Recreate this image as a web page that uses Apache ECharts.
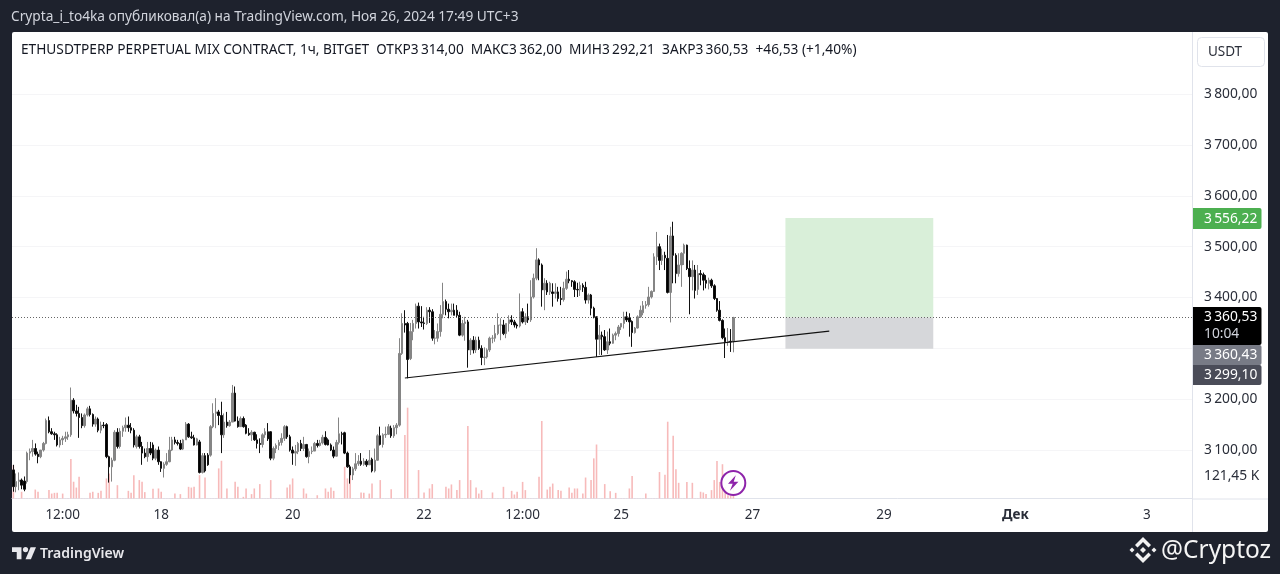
<!DOCTYPE html>
<html><head><meta charset="utf-8">
<style>html,body{margin:0;padding:0;background:#1e222d}#c{width:1280px;height:574px}</style>
<script src="https://cdn.jsdelivr.net/npm/echarts@6/dist/echarts.min.js"></script>
</head><body><div id="c"></div>
<script>
const opens=[3061,3028,3038,3041,3039,3038,3094,3097,3103,3092,
3087,3100,3113,3158,3136,3132,3130,3110,3120,3123,
3126,3130,3198,3177,3172,3164,3148,3169,3181,3170,
3151,3161,3139,3149,3150,3087,3067,3080,3135,3107,
3137,3144,3149,3144,3139,3107,3126,3107,3094,3087,
3103,3110,3084,3100,3077,3064,3072,3077,3100,3120,
3115,3113,3102,3120,3151,3126,3124,3110,3116,3056,
3089,3090,3090,3146,3172,3175,3168,3130,3155,3148,
3155,3212,3157,3146,3162,3149,3133,3130,3135,3120,
3113,3111,3130,3136,3136,3084,3103,3109,3115,3123,
3146,3126,3100,3094,3097,3113,3103,3111,3087,3097,
3098,3113,3109,3114,3125,3120,3110,3100,3088,3115,
3132,3134,3094,3067,3051,3063,3073,3078,3072,3078,
3071,3082,3059,3080,3128,3111,3130,3131,3143,3128,
3144,3149,3290,3349,3349,3280,3333,3349,3383,3352,
3350,3349,3375,3372,3320,3320,3333,3367,3392,3377,
3372,3375,3375,3365,3326,3349,3352,3297,3316,3297,
3316,3300,3282,3283,3297,3320,3320,3329,3346,3346,
3329,3349,3356,3352,3346,3344,3372,3352,3362,3356,
3401,3438,3474,3464,3415,3428,3411,3411,3408,3411,
3398,3396,3418,3436,3433,3431,3416,3415,3424,3420,
3395,3405,3379,3362,3318,3326,3323,3297,3313,3310,
3326,3329,3342,3349,3362,3360,3353,3331,3340,3362,
3370,3384,3386,3401,3412,3480,3500,3473,3483,3477,
3410,3521,3483,3447,3464,3487,3503,3457,3441,3454,
3416,3447,3445,3434,3428,3434,3423,3398,3375,3355,
3321,3313,3314,3314];
const closes=[3028,3038,3041,3031,3023,3094,3097,3103,3092,3087,
3100,3113,3158,3136,3132,3130,3110,3120,3123,3126,
3130,3198,3177,3172,3164,3148,3169,3181,3170,3151,
3161,3139,3149,3148,3087,3067,3080,3135,3107,3137,
3144,3149,3144,3139,3110,3126,3107,3094,3087,3103,
3094,3084,3100,3077,3064,3072,3077,3100,3120,3115,
3113,3102,3120,3151,3126,3124,3110,3122,3056,3089,
3059,3071,3146,3172,3175,3168,3130,3155,3148,3155,
3212,3157,3146,3162,3146,3133,3130,3135,3120,3113,
3111,3130,3136,3122,3084,3103,3109,3115,3123,3146,
3126,3100,3094,3097,3113,3103,3111,3087,3097,3098,
3113,3109,3114,3125,3111,3110,3100,3088,3115,3132,
3131,3094,3067,3051,3063,3073,3078,3072,3078,3071,
3080,3059,3080,3128,3111,3130,3131,3146,3128,3144,
3149,3290,3349,3346,3278,3333,3349,3383,3352,3350,
3349,3375,3372,3320,3320,3333,3367,3392,3377,3372,
3375,3365,3365,3326,3349,3352,3297,3316,3297,3316,
3300,3282,3283,3297,3320,3320,3329,3346,3346,3329,
3349,3356,3352,3346,3344,3372,3352,3362,3356,3401,
3438,3474,3464,3415,3428,3411,3428,3408,3411,3398,
3396,3418,3436,3433,3431,3416,3415,3424,3420,3395,
3405,3379,3362,3318,3326,3323,3297,3313,3310,3326,
3329,3342,3349,3362,3356,3352,3331,3340,3362,3375,
3384,3386,3401,3412,3480,3500,3473,3483,3478,3410,
3521,3483,3447,3464,3487,3503,3457,3441,3454,3414,
3447,3445,3434,3428,3434,3423,3398,3375,3355,3321,
3313,3314,3313,3360.53];
const highs=[3071,3054,3056,3044,3048,3097,3103,3120,3113,3097,
3100,3116,3162,3166,3143,3136,3133,3126,3128,3136,
3136,3223,3202,3189,3185,3172,3172,3185,3187,3172,
3166,3164,3156,3155,3153,3089,3085,3139,3143,3143,
3148,3164,3166,3153,3143,3130,3130,3116,3103,3116,
3116,3115,3103,3107,3078,3076,3094,3126,3126,3126,
3120,3120,3122,3155,3153,3136,3130,3124,3120,3094,
3094,3094,3149,3192,3202,3179,3195,3172,3175,3159,
3228,3225,3166,3166,3166,3151,3143,3139,3136,3131,
3123,3133,3143,3153,3137,3107,3113,3120,3133,3149,
3148,3130,3107,3110,3116,3120,3126,3112,3103,3107,
3116,3120,3120,3130,3137,3123,3113,3107,3120,3164,
3136,3136,3097,3071,3067,3094,3090,3094,3084,3082,
3100,3085,3103,3131,3146,3133,3146,3151,3148,3149,
3153,3320,3369,3375,3352,3350,3356,3388,3390,3383,
3362,3381,3381,3377,3336,3349,3385,3429,3396,3388,
3388,3388,3385,3372,3356,3362,3356,3320,3324,3323,
3323,3306,3302,3300,3323,3326,3346,3369,3359,3356,
3349,3365,3365,3356,3349,3408,3379,3369,3388,3434,
3447,3497,3477,3467,3438,3434,3431,3428,3428,3421,
3421,3431,3451,3454,3434,3434,3429,3431,3428,3431,
3408,3407,3382,3363,3346,3333,3336,3333,3339,3329,
3333,3346,3349,3372,3372,3369,3355,3342,3365,3384,
3393,3393,3421,3414,3487,3529,3506,3496,3490,3523,
3539,3549,3487,3487,3489,3506,3504,3473,3473,3464,
3464,3454,3449,3444,3439,3437,3426,3399,3393,3357,
3339,3340,3338,3362];
const lows=[3018,3017,3021,3023,3019,3034,3080,3087,3089,3074,
3084,3097,3111,3133,3130,3120,3107,3105,3110,3116,
3120,3126,3172,3166,3124,3143,3144,3166,3166,3146,
3146,3135,3133,3143,3084,3036,3038,3078,3103,3103,
3126,3136,3136,3133,3105,3103,3103,3071,3084,3077,
3090,3080,3080,3071,3057,3046,3069,3076,3098,3111,
3109,3100,3100,3120,3124,3122,3109,3109,3054,3054,
3056,3069,3087,3143,3143,3149,3094,3124,3144,3146,
3155,3156,3144,3148,3144,3131,3128,3118,3118,3103,
3094,3105,3124,3118,3080,3080,3094,3100,3109,3118,
3122,3097,3071,3069,3092,3098,3098,3085,3074,3092,
3098,3105,3107,3111,3109,3109,3098,3084,3087,3111,
3111,3092,3065,3034,3041,3059,3069,3069,3069,3067,
3071,3056,3056,3079,3109,3105,3124,3130,3124,3124,
3131,3146,3287,3331,3241,3277,3316,3339,3339,3342,
3337,3346,3350,3315,3308,3313,3323,3359,3365,3359,
3365,3365,3361,3324,3323,3315,3262,3287,3290,3291,
3297,3267,3267,3280,3293,3310,3313,3326,3316,3326,
3320,3333,3346,3341,3339,3341,3349,3346,3350,3352,
3398,3434,3434,3382,3375,3405,3405,3382,3398,3392,
3385,3392,3415,3428,3421,3401,3401,3403,3411,3388,
3388,3365,3359,3283,3287,3287,3295,3289,3306,3309,
3316,3323,3336,3339,3352,3323,3303,3329,3339,3360,
3365,3378,3382,3398,3411,3464,3454,3464,3454,3408,
3351,3428,3428,3441,3421,3464,3454,3367,3414,3398,
3405,3424,3414,3418,3416,3419,3395,3372,3353,3318,
3281,3305,3293,3292.21];
const volumesK=[183,1,1,37,1,1,1,1,49,37,
1,1,1,46,27,31,31,1,27,1,
1,216,92,60,119,1,1,1,31,37,
1,31,42,1,110,137,1,1,73,1,
1,1,42,31,128,1,101,92,35,1,
1,53,1,55,37,1,1,1,1,27,
1,24,1,1,64,60,64,1,128,1,
115,1,1,1,1,165,207,1,55,1,
1,92,64,1,9,55,1,24,55,1,
79,1,1,1,101,1,1,1,1,1,
60,77,110,1,1,1,55,27,1,1,
1,18,1,1,55,37,60,42,1,1,
1,174,110,146,1,1,1,33,31,1,
27,82,1,1,101,1,1,1,51,1,
1,1,1,348,498,1,1,1,156,1,
33,1,55,79,1,1,1,1,64,55,
77,1,46,101,1,1,397,101,1,60,
27,46,1,1,1,33,1,1,1,64,
1,1,42,22,37,1,91,46,1,1,
1,1,119,425,1,49,64,82,1,46,
42,1,1,60,31,55,55,1,27,115,
1,101,220,296,1,1,79,1,40,1,
31,1,1,1,1,55,123,1,1,1,
1,27,1,1,1,1,145,1,130,421,
1,344,161,86,1,1,91,1,86,1,
1,37,33,24,1,46,101,205,91,188,
64,18,15,121.45];
const xTickLabels={'2024-11-16 12:00':'12:00','2024-11-18 00:00':'18','2024-11-20 00:00':'20','2024-11-22 00:00':'22','2024-11-23 12:00':'12:00','2024-11-25 00:00':'25','2024-11-27 00:00':'27','2024-11-29 00:00':'29','2024-12-01 00:00':'Дек','2024-12-03 00:00':'3'};
const priceTicks=[3100,3200,3300,3400,3500,3600,3700,3800];
const lastPrice=3360.53, targetPrice=3556.22, stopPrice=3299.10;
const trendFrom=[143,3241.7], trendTo=[298,3334];
const boxFrom=282, boxTo=336;
const headerText='Crypta_i_to4ka опубликовал(а) на TradingView.com, Ноя 26, 2024 17:49 UTC+3';
const legendText='ETHUSDTPERP PERPETUAL MIX CONTRACT, 1ч, BITGET  ОТКР3\u2009314,00  МАКС3\u2009362,00  МИН3\u2009292,21  ЗАКР3\u2009360,53  +46,53 (+1,40%)';

const pad=n=>String(n).padStart(2,'0');
const categories=[];
for(let i=0;i<431;i++){
  const d=new Date(Date.UTC(2024,10,15,18+i));
  categories.push(d.getUTCFullYear()+'-'+pad(d.getUTCMonth()+1)+'-'+pad(d.getUTCDate())+' '+pad(d.getUTCHours())+':00');
}
const candles=opens.map((o,i)=>[o,closes[i],lows[i],highs[i]]);
const FONT='"Noto Sans", sans-serif';
const fmtPrice=v=>{const s=Number(v).toFixed(2).replace('.',',');return s.slice(0,1)+'\u2009'+s.slice(1);};
const tag=(y,h,fill,label,extra)=>({type:'group',z:100,children:[
  {type:'rect',z:100,shape:{x:1193,y:y,width:68.5,height:h,r:[0,2,2,0]},style:{fill:fill}},
  {type:'text',z:101,style:{x:1204,y:extra?y+10.5:y+h/2+.5,text:label,fill:'#fff',font:'13.8px '+FONT,verticalAlign:'middle'}},
  ...(extra?[{type:'text',z:101,style:{x:1204,y:y+27,text:extra,fill:'#d1d4dc',font:'13.8px '+FONT,verticalAlign:'middle'}}]:[])
]});
const poly=(pts,ox,oy,s,fill,z)=>({type:'polygon',z:z||20,shape:{points:pts.map(p=>[ox+p[0]*s,oy+p[1]*s])},style:{fill:fill}});

const chart=echarts.init(document.getElementById('c'),null,{renderer:'canvas'});
chart.setOption({
  animation:false,
  backgroundColor:'#1e222d',
  textStyle:{fontFamily:FONT},
  title:[
    {text:headerText,left:11,top:9.5,padding:0,textStyle:{color:'#d1d4dc',fontSize:13.7,lineHeight:16,fontWeight:'normal',fontFamily:FONT}},
    {text:legendText,left:21,top:42.5,padding:0,textStyle:{color:'#131722',fontSize:13.7,lineHeight:16,fontWeight:'normal',fontFamily:FONT}}
  ],
  grid:[
    {left:12,top:68.7,width:1180,height:432.2},
    {left:12,top:400,width:1180,height:98.5}
  ],
  xAxis:[
    {type:'category',gridIndex:0,data:categories,show:false,boundaryGap:true},
    {type:'category',gridIndex:1,data:categories,boundaryGap:true,
      axisTick:{show:false},
      axisLine:{show:true,lineStyle:{color:'#e0e3eb',width:1}},
      axisLabel:{margin:10,fontSize:13.5,color:'#2a2e39',fontFamily:FONT,hideOverlap:false,
        interval:(i,name)=>name in xTickLabels,
        formatter:name=>{const t=xTickLabels[name]||'';return t==='Дек'?'{b|Дек}':t;},
        rich:{b:{fontWeight:'bold',fontSize:13.5,color:'#2a2e39',fontFamily:FONT}}}}
  ],
  yAxis:[
    {type:'value',gridIndex:0,position:'right',min:3000,max:3850,interval:100,
      axisLine:{show:false},axisTick:{show:false},
      splitLine:{show:true,showMinLine:false,showMaxLine:false,lineStyle:{color:'#f5f5f7',width:1}},
      axisLabel:{customValues:priceTicks,margin:12,fontSize:13.8,color:'#2a2e39',fontFamily:FONT,formatter:fmtPrice}},
    {type:'value',gridIndex:1,position:'right',min:0,max:540,
      axisLine:{show:false},axisTick:{show:false},splitLine:{show:false},
      axisLabel:{customValues:[volumesK[volumesK.length-1]],margin:12,fontSize:13.8,color:'#2a2e39',fontFamily:FONT,
        formatter:v=>Number(v).toFixed(2).replace('.',',')+' K'}}
  ],
  series:[
    {type:'bar',name:'Volume',xAxisIndex:1,yAxisIndex:1,data:volumesK,barWidth:1.6,z:1,
      itemStyle:{color:'#f7baba'}},
    {type:'candlestick',name:'ETHUSDTPERP',xAxisIndex:0,yAxisIndex:0,data:candles,barWidth:2,z:3,
      itemStyle:{color:'#858585',color0:'#000000',borderColor:'#858585',borderColor0:'#111111',borderWidth:1},
      markArea:{silent:true,z:1,data:[
        [{coord:[categories[boxFrom],lastPrice],itemStyle:{color:'#d9efd9'}},{coord:[categories[boxTo],targetPrice]}],
        [{coord:[categories[boxFrom],stopPrice],itemStyle:{color:'#d6d7da'}},{coord:[categories[boxTo],lastPrice]}]
      ]},
      markLine:{silent:true,symbol:'none',animation:false,label:{show:false},data:[
        {yAxis:lastPrice,lineStyle:{color:'#666',type:[1,2],width:1}},
        [{coord:[categories[trendFrom[0]],trendFrom[1]],lineStyle:{color:'#111',type:'solid',width:1.2}},
         {coord:[categories[trendTo[0]],trendTo[1]]}]
      ]}}
  ],
  graphic:[
    {type:'rect',z:-10,silent:true,shape:{x:12,y:32,width:1256,height:500,r:2},style:{fill:'#ffffff'}},
    {type:'line',z:5,shape:{x1:1192.5,y1:32,x2:1192.5,y2:532},style:{stroke:'#e0e3eb',lineWidth:1}},
    {type:'line',z:5,shape:{x1:1192,y1:499,x2:1268,y2:499},style:{stroke:'#e0e3eb',lineWidth:1}},
    {type:'rect',z:6,shape:{x:1197.5,y:37.5,width:67,height:29,r:4},style:{fill:'#ffffff',stroke:'#e0e3eb',lineWidth:1}},
    {type:'text',z:7,style:{x:1225,y:52,text:'USDT',fill:'#2a2e39',font:'13.5px '+FONT,align:'center',verticalAlign:'middle'}},
    tag(208,21,'#4caf50',fmtPrice(targetPrice)),
    tag(307,38,'#000000',fmtPrice(lastPrice),'10:04'),
    tag(345,20,'#787b86',fmtPrice(3360.43)),
    tag(365,20,'#4a4c58',fmtPrice(stopPrice)),
    {type:'circle',z:20,shape:{cx:733.3,cy:483,r:12},style:{fill:'rgba(255,255,255,0.9)',stroke:'#8e24aa',lineWidth:2}},
    poly([[6,0],[0,6.5],[3.6,6.5],[1.5,12],[8,5],[4.4,5]],728,475.2,1.3,'#8e24aa',21),
    poly([[14,22],[7,22],[7,11],[0,11],[0,4],[14,4]],12,544.5,.676,'#e8e8ec'),
    poly([[28,22],[20,22],[27.5,4],[35.5,4]],12,544.5,.676,'#e8e8ec'),
    {type:'circle',z:20,shape:{cx:25.5,cy:549.6,r:2.6},style:{fill:'#e8e8ec'}},
    {type:'text',z:20,style:{x:40,y:554,text:'TradingView',fill:'#e8e8ec',font:'600 14px '+FONT,verticalAlign:'middle'}},
    poly([[14,11],[17,14],[14,17],[11,14]],1129,536,1,'#f2f2f2'),
    poly([[3,11.5],[5.5,14],[3,16.5],[.5,14]],1129,536,1,'#f2f2f2'),
    poly([[25,11.5],[27.5,14],[25,16.5],[22.5,14]],1129,536,1,'#f2f2f2'),
    poly([[14,1],[22,9],[19.5,11.5],[14,6],[8.5,11.5],[6,9]],1129,536,1,'#f2f2f2'),
    poly([[14,27],[22,19],[19.5,16.5],[14,22],[8.5,16.5],[6,19]],1129,536,1,'#f2f2f2'),
    {type:'text',z:20,style:{x:1161,y:551,text:'@Cryptoz',fill:'#f5f5f5',font:'24.5px '+FONT,verticalAlign:'middle'}}
  ]
});
</script></body></html>
